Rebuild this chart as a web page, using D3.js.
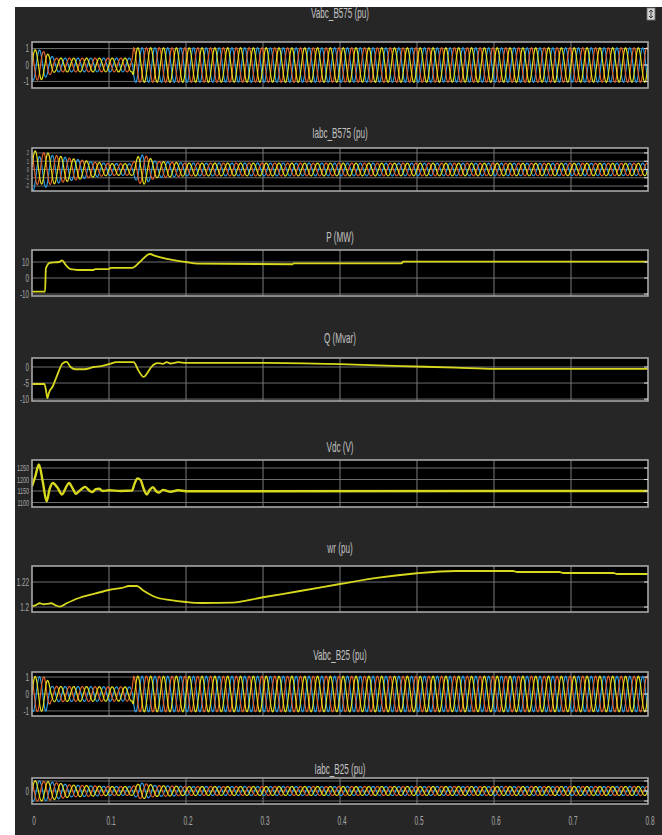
<!DOCTYPE html>
<html><head><meta charset="utf-8">
<script src="https://cdn.jsdelivr.net/npm/d3@7"></script>
<style>body{margin:0;background:#fff;overflow:hidden}</style>
</head><body><svg id="c" width="662" height="835"></svg>
<script>
// ---------------- data ----------------
const timeTicks = [0, 0.1, 0.2, 0.3, 0.4, 0.5, 0.6, 0.7, 0.8];
const timeTickLabels = ["0", "0.1", "0.2", "0.3", "0.4", "0.5", "0.6", "0.7", "0.8"];
const panelTitles = ["Vabc_B575 (pu)", "Iabc_B575 (pu)", "P (MW)", "Q (Mvar)", "Vdc (V)", "wr (pu)", "Vabc_B25 (pu)", "Iabc_B25 (pu)"];
const yTicks = [[1, 0, -1], [2, 1, 0, -1, -2], [10, 0, -10], [0, -5, -10], [1250, 1200, 1150, 1100], [1.22, 1.2], [1, 0, -1], [1, 0, -1]];
const yTickLabels = [["1", "0", "-1"], ["2", "1", "0", "-1", "-2"], ["10", "0", "-10"], ["0", "-5", "-10"], ["1250", "1200", "1150", "1100"], ["1.22", "1.2"], ["1", "0", "-1"], ["", "0", ""]];
const phaseNames = ["a", "b", "c"];
const gridFreqHz = 60;
// three-phase amplitude envelopes [time s, peak pu]
const vB575Env = [[0, 0.95], [0.012, 0.9], [0.022, 0.62], [0.03, 0.42], [0.13, 0.42], [0.132, 1.05], [0.8, 1.05]];
const iB575Env = [[0, 2.0], [0.02, 1.9], [0.05, 1.35], [0.08, 0.9], [0.1, 0.72], [0.13, 0.7], [0.138, 1.6], [0.145, 1.8], [0.16, 1.0], [0.2, 0.78], [0.8, 0.75]];
const iB575Offset = [[[0, 0.3], [0.03, 0]], [[0, -0.6], [0.03, 0]], [[0, 0.2], [0.03, 0]]];
const vB25Env = [[0, 1.05], [0.018, 1.0], [0.025, 0.45], [0.13, 0.42], [0.132, 1.05], [0.8, 1.05]];
const iB25Env = [[0, 1.05], [0.02, 0.95], [0.05, 0.6], [0.1, 0.45], [0.13, 0.45], [0.142, 0.8], [0.16, 0.55], [0.2, 0.45], [0.8, 0.45]];
// scalar signals [time s, value]
const pMW = [[0, -8.5], [0.017, -8.5], [0.018, 6], [0.023, 9.5], [0.035, 10], [0.039, 11], [0.044, 8], [0.05, 5.5], [0.06, 5], [0.08, 5], [0.082, 5.6], [0.1, 5.6], [0.102, 6.3], [0.13, 6.3], [0.14, 10], [0.153, 15], [0.16, 13.8], [0.175, 12], [0.2, 10], [0.215, 9], [0.338, 8.6], [0.34, 9.1], [0.48, 9.1], [0.482, 10.2], [0.8, 10.2]];
const qMvar = [[0, -5.3], [0.016, -5.3], [0.018, -7], [0.02, -9.7], [0.022, -8], [0.027, -6], [0.032, -3], [0.04, 1.2], [0.045, 1.6], [0.05, 0], [0.056, -0.7], [0.068, -0.7], [0.08, 0], [0.09, 0.3], [0.1, 0.9], [0.11, 1.5], [0.132, 1.5], [0.138, -1], [0.145, -3.1], [0.15, -1.8], [0.155, 0], [0.163, 1.2], [0.17, 1.0], [0.175, 1.5], [0.18, 1.1], [0.19, 1.5], [0.2, 1.3], [0.3, 1.3], [0.4, 0.9], [0.48, 0.3], [0.55, -0.2], [0.6, -0.6], [0.8, -0.6]];
const vdcV = [[0, 1170], [0.004, 1210], [0.009, 1265], [0.014, 1190], [0.019, 1105], [0.023, 1160], [0.027, 1185], [0.033, 1165], [0.039, 1135], [0.044, 1165], [0.048, 1185], [0.053, 1160], [0.057, 1138], [0.063, 1155], [0.069, 1168], [0.075, 1150], [0.078, 1145], [0.083, 1158], [0.087, 1160], [0.092, 1150], [0.1, 1153], [0.115, 1150], [0.13, 1152], [0.133, 1180], [0.137, 1205], [0.141, 1198], [0.145, 1160], [0.149, 1135], [0.153, 1155], [0.157, 1167], [0.161, 1150], [0.165, 1143], [0.17, 1155], [0.18, 1147], [0.19, 1153], [0.2, 1149], [0.8, 1150]];
const wrPu = [[0, 1.2005], [0.005, 1.2015], [0.01, 1.203], [0.015, 1.2022], [0.02, 1.2025], [0.025, 1.203], [0.03, 1.2015], [0.036, 1.2003], [0.045, 1.203], [0.06, 1.207], [0.08, 1.2105], [0.1, 1.2136], [0.12, 1.2158], [0.125, 1.2168], [0.136, 1.2168], [0.145, 1.213], [0.16, 1.208], [0.18, 1.2055], [0.2, 1.204], [0.22, 1.2032], [0.26, 1.2035], [0.3, 1.2078], [0.35, 1.213], [0.4, 1.2184], [0.45, 1.2235], [0.5, 1.227], [0.55, 1.2288], [0.625, 1.2288], [0.63, 1.228], [0.685, 1.228], [0.69, 1.2272], [0.755, 1.2272], [0.76, 1.2264], [0.8, 1.2264]];

// ---------------- layout ----------------
const phaseColors = ["#e3df1e", "#2a9de2", "#e2622c"];
const yellow = "#d8d81e";
const X0 = 32, X1 = 648;
const layout = [
  {top: 42, bottom: 88, ylim: [-1.4, 1.4], titleY: 18, kind: "3ph", env: vB575Env},
  {top: 148, bottom: 191, ylim: [-2.6, 2.6], titleY: 138, kind: "3ph", env: iB575Env, off: iB575Offset, tf: 6.8},
  {top: 250, bottom: 296, ylim: [-11.25, 17.5], titleY: 242, kind: "1", data: pMW},
  {top: 358, bottom: 401, ylim: [-10.6, 2.81], titleY: 343, kind: "1", data: qMvar},
  {top: 460, bottom: 507, ylim: [1080.4, 1284.8], titleY: 452, kind: "1", data: vdcV, w: 2.4, tf: 9},
  {top: 566, bottom: 612, ylim: [1.196, 1.2328], titleY: 553, kind: "1", data: wrPu},
  {top: 672, bottom: 716, ylim: [-1.3, 1.3], titleY: 660, kind: "3ph", env: vB25Env},
  {top: 778, bottom: 804, ylim: [-1.3, 1.3], titleY: 774, kind: "3ph", env: iB25Env}
];

const svg = d3.select("#c");
svg.append("rect").attr("x", 15).attr("y", 7).attr("width", 647).attr("height", 828).attr("fill", "#262626");
// small corner icon
svg.append("rect").attr("x", 647).attr("y", 8).attr("width", 8).attr("height", 12).attr("fill", "#d0d0d0").attr("stroke", "#777").attr("stroke-width", 0.8);
svg.append("path").attr("d", "M651,10 L651,18 M649,12 L651,10 L653,12 M649,16 L651,18 L653,16").attr("stroke", "#333").attr("stroke-width", 0.9).attr("fill", "none");

const x = d3.scaleLinear().domain([0, 0.8]).range([X0, X1]);
const defs = svg.append("defs");

function condensedText(g, tx, ty, str, size, anchor, sx, fill) {
  g.append("text").attr("transform", `translate(${tx},${ty}) scale(${sx},1)`)
    .attr("text-anchor", anchor).attr("font-family", "Liberation Sans, Arial, sans-serif")
    .attr("font-size", size).attr("fill", fill).text(str);
}

layout.forEach((p, i) => {
  const g = svg.append("g");
  const y = d3.scaleLinear().domain(p.ylim).range([p.bottom, p.top]);
  g.append("rect").attr("x", X0).attr("y", p.top).attr("width", X1 - X0).attr("height", p.bottom - p.top).attr("fill", "#000");
  // grid
  timeTicks.slice(1, -1).forEach(t => g.append("line").attr("x1", x(t)).attr("x2", x(t)).attr("y1", p.top).attr("y2", p.bottom).attr("stroke", "#8a8a8a").attr("stroke-width", 0.9));
  yTicks[i].forEach(v => g.append("line").attr("x1", X0).attr("x2", X1).attr("y1", y(v)).attr("y2", y(v)).attr("stroke", "#7a7a7a").attr("stroke-width", 0.9));
  // clip
  const cid = "clip" + i;
  defs.append("clipPath").attr("id", cid).append("rect").attr("x", X0).attr("y", p.top).attr("width", X1 - X0).attr("height", p.bottom - p.top);
  const plot = g.append("g").attr("clip-path", `url(#${cid})`);
  if (p.kind === "3ph") {
    const env = d3.scaleLinear().domain(p.env.map(d => d[0])).range(p.env.map(d => d[1])).clamp(true);
    const offs = phaseNames.map((_, k) => p.off ? d3.scaleLinear().domain(p.off[k].map(d => d[0])).range(p.off[k].map(d => d[1])).clamp(true) : (() => 0));
    const times = d3.range(0, 0.8001, 0.0003);
    [1, 2, 0].forEach(k => {
      const line = d3.line().x(t => x(t)).y(t => y(env(t) * Math.sin(2 * Math.PI * gridFreqHz * t - k * 2 * Math.PI / 3) + offs[k](t)));
      plot.append("path").attr("d", line(times)).attr("fill", "none").attr("stroke", phaseColors[k]).attr("stroke-width", 1.2);
    });
  } else {
    const line = d3.line().x(d => x(d[0])).y(d => y(d[1])).curve(d3.curveMonotoneX);
    plot.append("path").attr("d", line(p.data)).attr("fill", "none").attr("stroke", yellow).attr("stroke-width", p.w || 1.8);
  }
  // frame
  g.append("rect").attr("x", X0).attr("y", p.top).attr("width", X1 - X0).attr("height", p.bottom - p.top).attr("fill", "none").attr("stroke", "#a8a8a8").attr("stroke-width", 1.6);
  // right-edge tick marks
  yTicks[i].forEach(v => g.append("line").attr("x1", X1 - 4).attr("x2", X1).attr("y1", y(v)).attr("y2", y(v)).attr("stroke", "#e0e0e0").attr("stroke-width", 1));
  // y tick labels
  const tf = p.tf || 10.5;
  yTicks[i].forEach((v, j) => condensedText(g, 29, y(v) + tf * 0.36, yTickLabels[i][j], tf, "end", 0.6, "#a8a8a8"));
  // title
  condensedText(g, (X0 + X1) / 2, p.titleY, panelTitles[i], 14.5, "middle", 0.56, "#c2c2c2");
});

// x tick labels
timeTicks.forEach((t, j) => condensedText(svg, x(t) + 2, 825, timeTickLabels[j], 13, "middle", 0.5, "#a8a8a8"));
</script></body></html>
